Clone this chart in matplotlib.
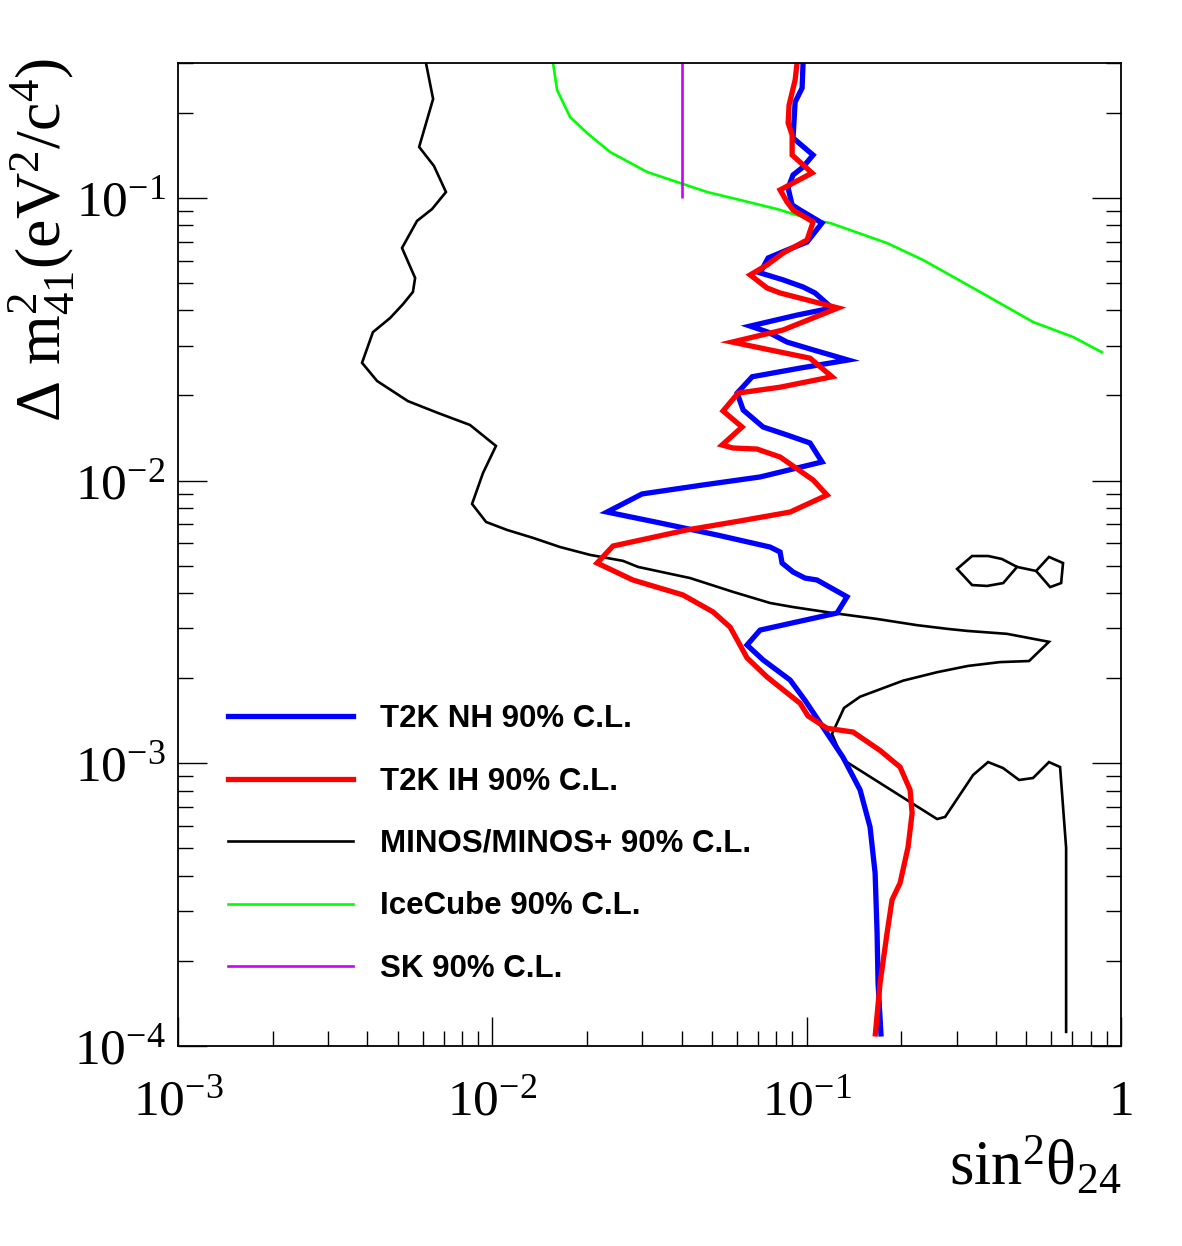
import matplotlib
matplotlib.use("Agg")
import matplotlib.pyplot as plt
from matplotlib.lines import Line2D
from matplotlib.ticker import LogLocator, NullFormatter

# --- data (sin^2 theta_24, Delta m^2_41 [eV^2]) ---
nh_x = [0.0974, 0.0967, 0.0919, 0.0905, 0.1048, 0.0974, 0.0905, 0.0873, 0.0899, 0.0953,
        0.1119, 0.1003, 0.0866, 0.0754, 0.0711, 0.0841, 0.0974, 0.1063, 0.1204, 0.0932,
        0.0661, 0.0754, 0.0866, 0.1048, 0.1354, 0.0953, 0.0671, 0.0601, 0.0628, 0.0727,
        0.0866, 0.1025, 0.1119, 0.0932, 0.0711, 0.0468, 0.02995, 0.02317, 0.0342, 0.0519,
        0.0765, 0.0823, 0.0835, 0.0905, 0.0988, 0.1079, 0.1344, 0.1249, 0.0711, 0.0646,
        0.0727, 0.0886, 0.0988, 0.1128, 0.1305, 0.1479, 0.1591, 0.1651, 0.1675, 0.1687, 0.1725]
nh_y = [0.300, 0.2446, 0.2183, 0.1629, 0.1418, 0.1286, 0.1205, 0.1084, 0.0944, 0.0906,
        0.0815, 0.0698, 0.0654, 0.0613, 0.0543, 0.0513, 0.0484, 0.0461, 0.0408, 0.0385,
        0.0352, 0.0335, 0.0309, 0.0290, 0.0267, 0.0250, 0.0233, 0.0204, 0.01777, 0.01547,
        0.01450, 0.01358, 0.01164, 0.01108, 0.01030, 0.00965, 0.00897, 0.00774, 0.00708, 0.00642,
        0.00582, 0.00559, 0.00511, 0.00475, 0.00452, 0.00445, 0.00388, 0.00340, 0.00296, 0.00262,
        0.00232, 0.00197, 0.00167, 0.00134, 0.00105, 0.000805, 0.000595, 0.000409, 0.000251,
        0.000167, 0.000108]

ih_x = [0.0932, 0.0919, 0.0879, 0.0873, 0.0899, 0.0899, 0.1040, 0.0823, 0.0866, 0.0905,
        0.1048, 0.1003, 0.0841, 0.0748, 0.0661, 0.0748, 0.0823, 0.1258, 0.0841, 0.0579,
        0.0823, 0.1025, 0.1204, 0.0823, 0.0605, 0.0542, 0.0623, 0.0538, 0.0583, 0.0695,
        0.0823, 0.1048, 0.1161, 0.0886, 0.0614, 0.0416, 0.0242, 0.02154, 0.0280, 0.0404,
        0.0504, 0.0571, 0.0646, 0.0748, 0.0953, 0.1010, 0.1161, 0.1405, 0.1712, 0.1982,
        0.2133, 0.2165, 0.2102, 0.1982, 0.1869, 0.1802, 0.1712, 0.1651]
ih_y = [0.300, 0.2614, 0.2130, 0.1841, 0.1669, 0.1418, 0.1225, 0.1067, 0.0967, 0.0906,
        0.0822, 0.0710, 0.0638, 0.0579, 0.0534, 0.0480, 0.0461, 0.0408, 0.0341, 0.0309,
        0.0285, 0.0271, 0.0233, 0.0214, 0.0204, 0.01763, 0.01547, 0.01336, 0.01304, 0.01293,
        0.01212, 0.01005, 0.00889, 0.00774, 0.00720, 0.00669, 0.00587, 0.00511, 0.00445, 0.00394,
        0.00343, 0.00303, 0.00236, 0.00202, 0.00163, 0.00147, 0.00133, 0.00129, 0.00111, 0.000970,
        0.000805, 0.000667, 0.000506, 0.000377, 0.000329, 0.000251, 0.000167, 0.000108]

minos_x = [0.00615, 0.00648, 0.00585, 0.00652, 0.00712, 0.00643, 0.00576, 0.00516, 0.00568, 0.00559,
           0.00520, 0.00473, 0.00417, 0.00385, 0.00430, 0.00539, 0.00672, 0.00849, 0.01027, 0.00934,
           0.00862, 0.00955, 0.01114, 0.01348, 0.01643, 0.02046, 0.02605, 0.02908, 0.0426, 0.0583,
           0.0765, 0.0905, 0.1213, 0.1675, 0.2245, 0.2797, 0.3239, 0.434, 0.590, 0.510,
           0.412, 0.326, 0.260, 0.2026, 0.1479, 0.1315, 0.1204, 0.1305, 0.260, 0.2757,
           0.3384, 0.3777, 0.4215, 0.474, 0.525, 0.590, 0.640, 0.669, 0.669]
minos_y = [0.300, 0.2238, 0.1514, 0.1297, 0.1049, 0.0913, 0.0829, 0.0665, 0.0521, 0.0465,
           0.0421, 0.0376, 0.0335, 0.0261, 0.0225, 0.0191, 0.01734, 0.01573, 0.01326, 0.01064,
           0.00827, 0.00714, 0.00669, 0.00627, 0.00582, 0.00546, 0.00520, 0.00495, 0.00452, 0.00404,
           0.00369, 0.00357, 0.00340, 0.00324, 0.00308, 0.00299, 0.00294, 0.00287, 0.00269, 0.00230,
           0.00228, 0.00221, 0.00210, 0.00196, 0.00172, 0.00157, 0.00127, 0.00103, 0.000635, 0.000646,
           0.000909, 0.00101, 0.000962, 0.000873, 0.000887, 0.00101, 0.000970, 0.000502, 0.000111]

# small MINOS islands near sin^2 ~ 0.3-0.65
island_x = [0.467, 0.418, 0.378, 0.336, 0.301, 0.336, 0.375, 0.422, 0.467,
            0.537, 0.590, 0.654, 0.645, 0.595, 0.537]
island_y = [0.00495, 0.00528, 0.00541, 0.00541, 0.00487, 0.00427, 0.00424, 0.00434, 0.00495,
            0.00479, 0.00537, 0.00511, 0.00434, 0.00420, 0.00479]

icecube_x = [0.0156, 0.01607, 0.01767, 0.0200, 0.02369, 0.03106, 0.03955, 0.04821, 0.0614,
             0.0805, 0.1048, 0.1187, 0.1802, 0.2346, 0.356, 0.525, 0.704, 0.877]
icecube_y = [0.300, 0.2407, 0.1933, 0.1697, 0.1453, 0.1235, 0.1129, 0.1049, 0.0983,
             0.0913, 0.0835, 0.0815, 0.0692, 0.0603, 0.0465, 0.0364, 0.0322, 0.0283]

sk_x = [0.0402, 0.0402]
sk_y = [0.1, 0.3]

x_ticks = [1e-3, 1e-2, 1e-1, 1]
x_ticklabels = ["$10^{-3}$", "$10^{-2}$", "$10^{-1}$", "1"]
y_ticks = [1e-4, 1e-3, 1e-2, 1e-1]
y_ticklabels = ["$10^{-4}$", "$10^{-3}$", "$10^{-2}$", "$10^{-1}$"]

labels = ["T2K NH 90% C.L.", "T2K IH 90% C.L.", "MINOS/MINOS+ 90% C.L.",
          "IceCube 90% C.L.", "SK 90% C.L."]
colors = ["#0000ff", "#ff0000", "#000000", "#00ff00", "#cc00ff"]
widths = [3.8, 3.8, 1.9, 1.9, 1.9]

plt.rcParams["font.family"] = ["Liberation Serif", "DejaVu Serif"]
plt.rcParams["mathtext.fontset"] = "custom"
plt.rcParams["mathtext.rm"] = "Liberation Serif"
plt.rcParams["mathtext.it"] = "Liberation Serif:italic"
plt.rcParams["mathtext.bf"] = "Liberation Serif:bold"

fig = plt.figure(figsize=(11.82, 12.46), dpi=100)
ax = fig.add_axes([178 / 1182, 1 - 1046 / 1246, (1121 - 178) / 1182, (1046 - 63) / 1246])

kw = dict(solid_joinstyle="miter", solid_capstyle="butt")
ax.plot(minos_x, minos_y, color=colors[2], linewidth=widths[2], **kw)
ax.plot(island_x, island_y, color=colors[2], linewidth=widths[2], **kw)
ax.plot(icecube_x, icecube_y, color=colors[3], linewidth=widths[3], **kw)
ax.plot(sk_x, sk_y, color=colors[4], linewidth=widths[4], **kw)
ax.plot(nh_x, nh_y, color=colors[0], linewidth=widths[0], **kw)
ax.plot(ih_x, ih_y, color=colors[1], linewidth=widths[1], **kw)

ax.set_xscale("log")
ax.set_yscale("log")
ax.set_xlim(1e-3, 1)
ax.set_ylim(1e-4, 0.3)

ax.set_xticks(x_ticks)
ax.set_xticklabels(x_ticklabels)
ax.set_yticks(y_ticks)
ax.set_yticklabels(y_ticklabels)
ax.xaxis.set_minor_locator(LogLocator(base=10, subs=range(2, 10)))
ax.yaxis.set_minor_locator(LogLocator(base=10, subs=range(2, 10)))
ax.xaxis.set_minor_formatter(NullFormatter())
ax.yaxis.set_minor_formatter(NullFormatter())

ax.tick_params(which="both", direction="in", top=False, right=True, width=1.0)
ax.tick_params(which="major", length=21, labelsize=37)
ax.tick_params(which="minor", length=10.5)
ax.tick_params(axis="x", pad=24)
ax.tick_params(axis="y", pad=9)
for s in ax.spines.values():
    s.set_linewidth(1.3)

handles = [Line2D([], [], color=c, linewidth=w) for c, w in zip(colors, widths)]
ax.legend(handles, labels, loc="upper left",
          bbox_to_anchor=(228 / 1182, 1 - 704 / 1246), bbox_transform=fig.transFigure,
          frameon=False, prop={"family": "Liberation Sans", "weight": "bold", "size": 22.5},
          handlelength=4.0, handletextpad=0.85, labelspacing=1.04, borderpad=0, borderaxespad=0)

fig.text(42 / 1182, 1 - 58 / 1246, "Δ m$^{2}_{41}$(eV$^{2}$/c$^{4}$)",
         rotation=90, ha="center", va="top", fontsize=46)
fig.text(1121 / 1182, 1 - 1185 / 1246, "sin$^{2}$θ$_{24}$",
         ha="right", va="baseline", fontsize=45)

fig.savefig("out.png", dpi=100, facecolor="white")
